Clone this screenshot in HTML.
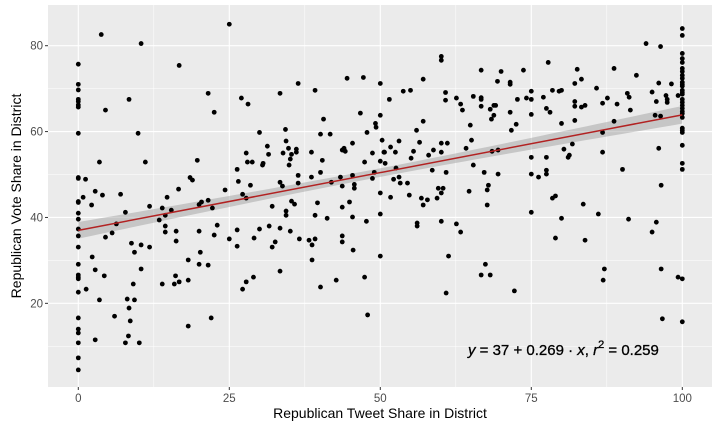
<!DOCTYPE html>
<html><head><meta charset="utf-8">
<style>
html,body{margin:0;padding:0;background:#fff;}
svg{display:block;font-family:"Liberation Sans",Arial,sans-serif;}
</style></head>
<body>
<svg id="chart" width="720" height="432" viewBox="0 0 720 432">
<rect x="0" y="0" width="720" height="432" fill="#fff"/>
<rect x="48" y="5" width="664" height="382" fill="#EBEBEB"/>
<g id="grid"></g>
<g id="band"></g>
<g id="pts"></g>
<g id="line"></g>
<g id="axes"></g>
<text x="380" y="418" text-anchor="middle" font-size="14" fill="#000">Republican Tweet Share in District</text>
<text transform="translate(21,196) rotate(-90)" text-anchor="middle" font-size="14" fill="#000">Republican Vote Share in District</text>
<text x="468" y="355" font-size="15" fill="#000" stroke="#000" stroke-width="0.3"><tspan font-style="italic">y</tspan> = 37 + 0.269 · <tspan font-style="italic">x</tspan>,  <tspan font-style="italic">r</tspan><tspan dy="-7" font-size="11">2</tspan><tspan dy="7"> = 0.259</tspan></text>
</svg>
<script>
const xTicks=[0,25,50,75,100];
const xTickLabels=["0","25","50","75","100"];
const yTicks=[20,40,60,80];
const yTickLabels=["20","40","60","80"];
const intercept=37;
const slope=0.269;
const xs=[0,0,0,0,0,0,0,0,0,0,0,0,0,0,0,0,0,0,0,0,0,0,0,0,0,0,0,0,
3.8,10.4,16.7,21.5,8.4,4.5,22.5,9.9,3.5,11.1,19.7,1.2,18.5,18.9,2.8,16.6,0.8,4,7,14.7,2.2,11.8,20.4,20,21.5,22.2,13.9,15.4,7.8,14.4,13.4,6.3,23,14.4,14.4,16.2,20,5.6,4.5,22.5,8.8,10.4,11.8,16.2,9.3,20.2,2.3,18.2,2.8,20,21.5,10.4,4.3,16.1,9.1,13.9,15.9,16.7,18.2,1.3,3.5,8.1,9.3,8.4,6,8.6,22,18.2,2.8,8.3,7.8,10.1,
25,27,28.1,33.4,36.4,39.2,44.5,47.2,50,46.7,50,40.6,49.2,49.3,30,34.3,40.1,41.7,47.8,34.4,31.3,34.8,36.1,36.1,45.4,50.3,27.8,31.5,33.9,35.3,38.6,43.7,44,44.2,48.7,50.6,28,28.8,35.1,40.4,47.4,50,30.5,30.6,34.9,26.3,40.1,26.5,24.3,28.5,33.4,33.8,36.4,36.4,38.6,41.9,43.4,43.7,45.4,45.7,45.7,48.7,49,27.2,27.8,32.1,35.3,35.8,34.4,34.4,39.6,39.2,41.2,43.7,44.9,45.4,47.7,50,50,26.3,30,31.6,33.4,35.1,25,29.1,32.6,32.1,36.6,38.2,39.2,38.7,26.3,43.7,43.7,45.5,38.7,50,33.4,27.8,29,27.2,40.1,42.7,47.4,47.9,
60.1,60.1,66.7,70,73.7,77.8,57.1,69.4,71.5,71.5,53.8,55,60.8,75,51.5,60.8,62.6,65.4,66.7,66.7,66.7,63.3,63.6,68.8,69.1,68.2,68.8,68.4,71.5,72.7,74.2,75,75,77,77.5,57.1,64.9,72.5,71.7,56,53.1,51.7,52.5,50.7,56.5,55.5,58.8,60.1,61.1,60.1,55.1,58,64.2,65.1,50.8,52.6,58.6,60.9,65.4,67.2,68.5,69.5,69.5,75,75,76.2,77.5,77.5,77.5,52.2,53.1,53.3,54.5,51.7,54.8,56.8,57.8,57.1,59.4,59.6,60.4,60.1,64.7,67.9,67.7,67.7,75,56.1,56.1,60.1,62.6,63.3,61.3,67.4,66.7,68.2,60.9,72.2,
82.6,88.7,83.3,82.2,92.4,94,96.4,85.8,78.5,79.6,80,96.1,98.2,95,90.9,91.2,87.6,86.8,89.2,82.2,82.2,83.3,83.9,95.7,97.3,97.5,97.5,99.3,78.1,91.4,80,82.2,88.7,95.5,96.4,86.8,81.8,80.4,81.3,81.1,96.1,86.8,90.1,96.5,78.5,79,83.6,86.1,80,91.1,95.7,95,79,83.9,87.1,86.9,96.5,99.3,100,96.7,100,
100,100,100,100,100,100,100,100,100,100,100,100,100,100,100,100,100,100,100,100,100,100,100,100,100,100,100,100];
const ys=[75.7,71,69.7,67.5,67,66.2,65.7,59.6,49.3,49.1,43.7,43.5,41,39.6,37.3,35.7,33.1,29.1,26.6,26.1,25.7,22.6,16.6,14,13.1,10.8,7.3,4.5,
82.6,80.5,75.4,68.9,67.5,65,64.5,59.6,52.9,52.9,53.3,48.9,49.3,48.7,46.1,46.6,44.7,45.2,45.4,44.7,42.9,42.6,43.6,43,44,42.2,42.2,41.7,41.2,40.5,39.4,38.5,38.2,38,36.6,36.8,36.8,36.4,35.4,35.9,34,33.6,33.1,34.5,31.9,31.9,30.8,30.1,27.8,29.1,28.9,28,26.4,26.4,24.5,24.5,24.5,25,25.4,23.3,20.8,21,20.8,18.9,17,15.9,16.6,14.7,11.5,12.4,10.8,10.8,
85,67.8,66.4,68.9,71.2,69.6,72.4,72.6,71.2,64.3,63.8,62.9,61.9,61,59.8,60.5,59.4,59.4,59.8,57.8,56.6,56.1,55.9,55.2,57.3,58,55,54.7,55,54.7,55.2,55.7,56.1,55.4,55,55.2,52.9,52.9,53.6,53.3,52.9,53.1,52.2,52.6,52.2,51.2,50.5,48.4,46.4,47.5,48.2,47.3,49.8,48,49.4,48.2,49.4,47.3,49.8,47.7,46.8,49.1,50.5,45.4,44.5,42.6,43.8,43.1,41.5,40.5,43.4,40.5,39.8,42.4,43.6,40.1,39.1,45.7,40.8,37.1,37.3,38,37.5,36.8,35,35.2,34.3,33.1,35,34.7,35,33.6,33.3,35.7,34.3,32.4,30.1,31,27.5,25,26.1,23.3,23.8,25.4,26.1,17.3,
77.5,76.6,74.3,74,74.3,76.1,72.2,71.7,71.5,71,69.4,69.6,69.1,69.4,67.5,67.3,67.8,68.2,67.9,67.5,65.9,66.4,65,66.1,66.1,65.2,63.8,62.9,64.5,67.5,67.8,67.5,64,68,65.4,62.4,61.5,61.7,60.3,60.3,57.8,56.4,55.2,55.2,57.5,55.4,55.7,57.3,57.3,55.2,53.8,54.5,56.1,58,52.6,51.5,51,50.5,52.2,50.5,55.4,55.7,50.1,54,50.1,49.4,54,51,50.1,48.9,49.4,48,48,44.7,45.2,44.5,44.1,42.9,44.5,46.8,46.8,45.7,46.1,47.5,46.4,42.9,41.2,38.7,38,39.1,38.5,36.6,31,29.1,26.6,26.6,22.4,22.9,
74.5,74.7,72.2,71.2,73.1,80.5,79.8,70.1,69.6,69.4,69.6,71.3,71.1,69.2,68.9,68,67.8,66.6,66.4,67,65.9,65.7,66.1,67,68.4,67.5,66.8,68.4,64.5,65,61.9,62.6,62.4,63.8,63.6,59.8,57.1,55.9,54.5,54,56.1,55.2,51.2,47.5,44.5,45,43.1,40.8,39.8,39.6,38.9,36.6,35.2,34.7,28,25.4,28,26.1,25.7,16.4,15.7,
84,82.4,78.2,77,76.1,74.7,74,73.1,72.4,71.5,71,70.6,69.6,69.1,68.7,67.5,66.8,66.1,65.4,64.7,64.2,63.3,60.8,60.3,59.8,56.8,52.6,51.2];

const NS="http://www.w3.org/2000/svg";
const PL=48,PR=712,PT=5,PB=387;
function sx(v){return 78.3+v*6.04;}
function sy(v){return 45.7+(80-v)*4.294;}
function mk(tag,attrs,parent){const e=document.createElementNS(NS,tag);for(const k in attrs)e.setAttribute(k,attrs[k]);parent.appendChild(e);return e;}
const grid=document.getElementById('grid');
for(let v=10;v<=80;v+=20){const l=mk('line',{x1:PL,x2:PR,y1:sy(v),y2:sy(v),stroke:'#fff','stroke-width':0.55},grid);

}
for(let v=-12.5;v<=112.5;v+=25){const l=mk('line',{x1:sx(v),x2:sx(v),y1:PT,y2:PB,stroke:'#fff','stroke-width':0.55},grid);

}
const axes=document.getElementById('axes');
yTicks.forEach((v,i)=>{const l=mk('line',{x1:PL,x2:PR,y1:sy(v),y2:sy(v),stroke:'#fff','stroke-width':1.1},grid);


const t=mk('line',{x1:PL-3,x2:PL,y1:sy(v),y2:sy(v),stroke:'#333','stroke-width':1},axes);


const tx=mk('text',{x:PL-5,y:sy(v)+4,'text-anchor':'end','font-size':11.5,fill:'#4D4D4D'},axes);
tx.textContent=yTickLabels[i];

});
xTicks.forEach((v,i)=>{const l=mk('line',{x1:sx(v),x2:sx(v),y1:PT,y2:PB,stroke:'#fff','stroke-width':1.1},grid);


const t=mk('line',{x1:sx(v),x2:sx(v),y1:PB,y2:PB+3,stroke:'#333','stroke-width':1},axes);


const tx=mk('text',{x:sx(v),y:PB+15,'text-anchor':'middle','font-size':11.5,fill:'#4D4D4D'},axes);
tx.textContent=xTickLabels[i];

});
const band=document.getElementById('band');
let up=[],lo=[];
for(let v=0;v<=100;v+=2){const f=intercept+slope*v;const w=Math.sqrt(1+0.0012*(v-48)*(v-48));up.push(sx(v)+','+sy(f+w));lo.unshift(sx(v)+','+sy(f-w));}
const bp=mk('polygon',{points:up.concat(lo).join(' '),fill:'#999','fill-opacity':0.45},band);


const pts=document.getElementById('pts');
for(let i=0;i<xs.length;i++){const c=mk('circle',{cx:sx(xs[i]),cy:sy(ys[i]),r:2.4,fill:'#000'},pts);

}
const ln=mk('line',{x1:sx(0),y1:sy(intercept),x2:sx(100),y2:sy(intercept+slope*100),stroke:'#B22222','stroke-width':1.5},document.getElementById('line'));


</script>
</body></html>
